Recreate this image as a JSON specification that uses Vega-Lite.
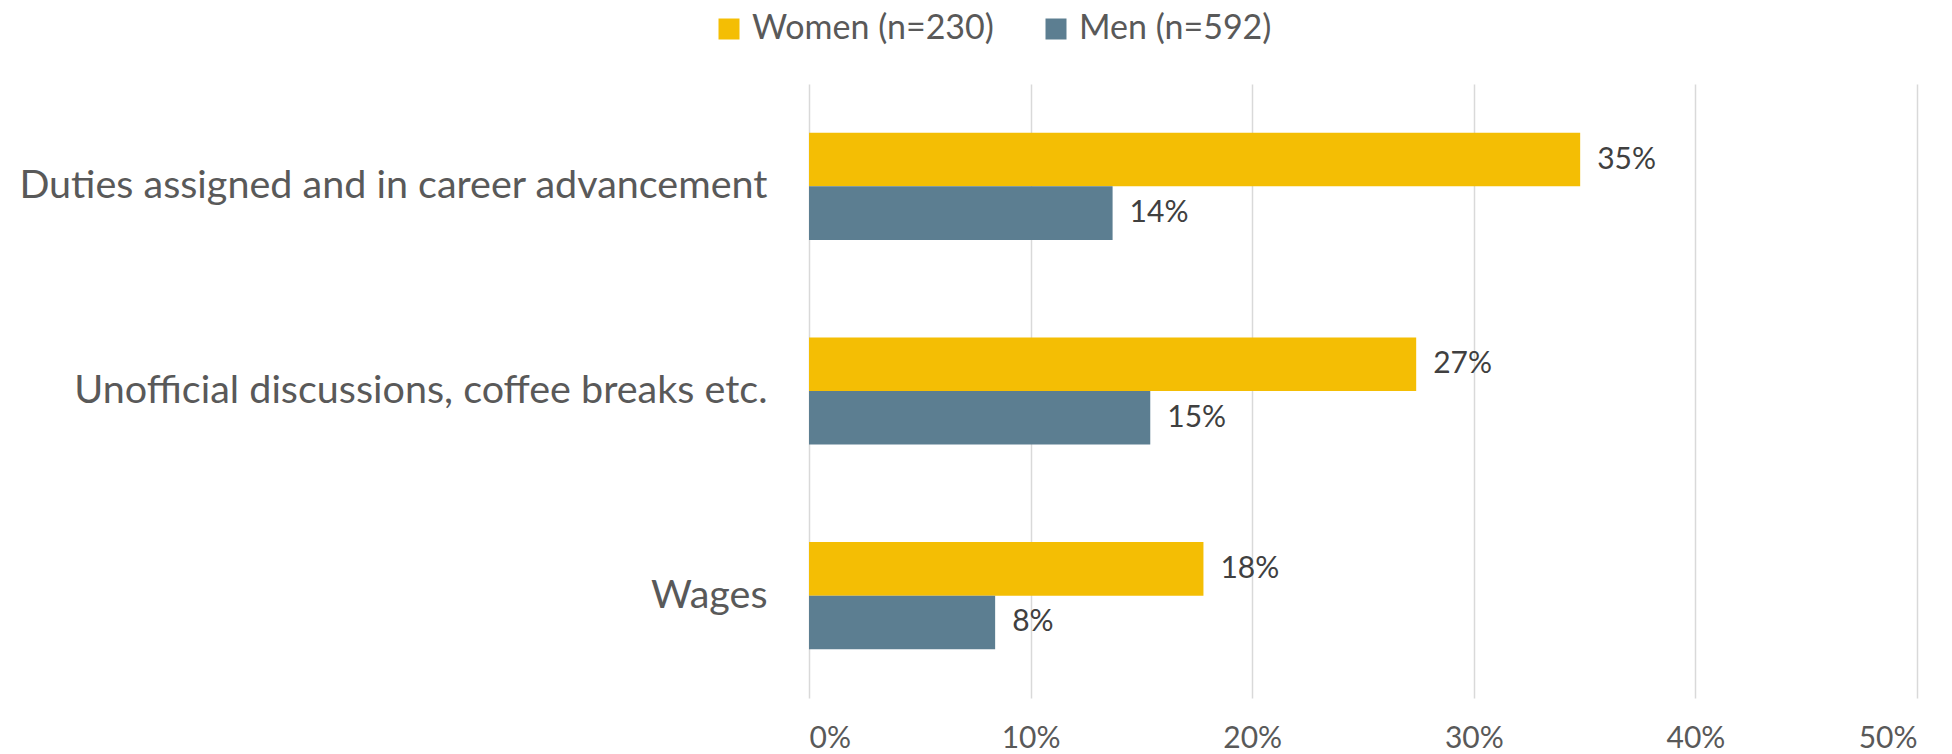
{
  "$schema": "https://vega.github.io/schema/vega-lite/v6.json",
  "width": 1108,
  "height": 614,
  "autosize": {"type": "none"},
  "padding": {"left": 809, "top": 84, "right": 35, "bottom": 56},
  "background": "white",
  "config": {"view": {"stroke": null}, "font": "Lato"},
  "data": {
    "values": [
      {"category": "Duties assigned and in career advancement", "gender": "Women (n=230)", "value": 0.348},
      {"category": "Duties assigned and in career advancement", "gender": "Men (n=592)", "value": 0.137},
      {"category": "Unofficial discussions, coffee breaks etc.", "gender": "Women (n=230)", "value": 0.274},
      {"category": "Unofficial discussions, coffee breaks etc.", "gender": "Men (n=592)", "value": 0.154},
      {"category": "Wages", "gender": "Women (n=230)", "value": 0.178},
      {"category": "Wages", "gender": "Men (n=592)", "value": 0.084}
    ]
  },
  "encoding": {
    "y": {
      "field": "category",
      "type": "nominal",
      "sort": ["Duties assigned and in career advancement", "Unofficial discussions, coffee breaks etc.", "Wages"],
      "scale": {"paddingInner": 0.476, "paddingOuter": 0.238},
      "axis": {"title": null, "domain": false, "ticks": false, "labelFontSize": 39.5, "labelColor": "#595959", "labelPadding": 42, "labelLimit": 0}
    },
    "yOffset": {
      "field": "gender",
      "type": "nominal",
      "sort": ["Women (n=230)", "Men (n=592)"],
      "scale": {"paddingInner": 0, "paddingOuter": 0}
    },
    "x": {
      "field": "value",
      "type": "quantitative",
      "scale": {"domain": [0, 0.5], "nice": false},
      "axis": {"title": null, "format": ".0%", "values": [0, 0.1, 0.2, 0.3, 0.4, 0.5], "grid": true, "gridColor": "#d9d9d9", "gridWidth": 1.5, "domain": false, "ticks": false, "labelFontSize": 30, "labelColor": "#595959", "labelPadding": 25}
    }
  },
  "layer": [
    {
      "mark": {"type": "bar"},
      "encoding": {
        "color": {
          "field": "gender",
          "type": "nominal",
          "sort": ["Women (n=230)", "Men (n=592)"],
          "scale": {"domain": ["Women (n=230)", "Men (n=592)"], "range": ["#F4BE04", "#5C7E91"]},
          "legend": {"title": null, "orient": "none", "legendX": -97, "legendY": -72, "direction": "horizontal", "symbolType": "square", "symbolSize": 441, "symbolStrokeWidth": 0, "symbolOpacity": 1, "labelFontSize": 34, "labelColor": "#595959", "labelOffset": 6, "labelLimit": 0, "columnPadding": 45}
        }
      }
    },
    {
      "mark": {"type": "text", "align": "left", "baseline": "middle", "dx": 17, "fontSize": 30, "color": "#404040"},
      "encoding": {"text": {"field": "value", "type": "quantitative", "format": ".0%"}}
    }
  ]
}
